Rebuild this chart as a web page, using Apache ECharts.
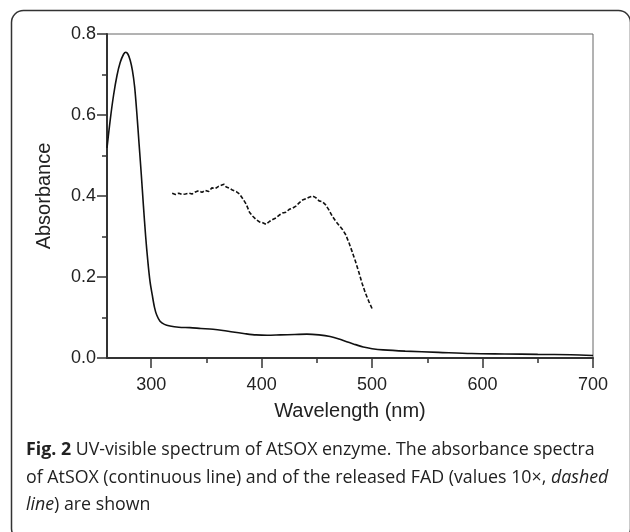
<!DOCTYPE html>
<html>
<head>
<meta charset="utf-8">
<script src="https://cdn.jsdelivr.net/npm/echarts@6/dist/echarts.min.js"></script>
<style>
html,body{margin:0;padding:0;background:#fff;}
#c{width:630px;height:532px;}
</style>
</head>
<body>
<div id="c"></div>
<script>
// ---- data ----
var solidWavelength = [260,263,266,269,272,275,277,279,281,283,285,287,289,291,293,295,297,299,301,303,305,308,312,317,325,335,345,356,365,374,385,395,405,417,430,441,452,462,470,477,485,492,500,510,530,560,590,620,650,680,700];
var solidAbsorbance = [0.519,0.590,0.650,0.697,0.730,0.750,0.755,0.750,0.735,0.710,0.670,0.605,0.530,0.455,0.375,0.300,0.238,0.188,0.155,0.125,0.106,0.091,0.083,0.079,0.076,0.075,0.073,0.071,0.068,0.064,0.060,0.057,0.056,0.057,0.058,0.059,0.057,0.053,0.047,0.040,0.033,0.027,0.023,0.020,0.017,0.014,0.011,0.010,0.009,0.008,0.006];
var fadWavelength = [319,322,325,328,331,334,337,340,343,346,349,352,355,358,361,364,366,368,371,374,377,380,383,386,389,392,395,398,401,404,407,410,413,416,419,422,425,428,431,434,437,440,443,446,449,452,455,458,461,464,467,470,473,476,479,482,485,488,491,494,497,500];
var fadAbsorbance10x = [0.407,0.404,0.407,0.404,0.405,0.407,0.405,0.410,0.413,0.409,0.414,0.411,0.420,0.418,0.424,0.427,0.429,0.422,0.419,0.414,0.411,0.405,0.393,0.380,0.360,0.350,0.342,0.336,0.334,0.330,0.337,0.342,0.346,0.353,0.358,0.360,0.367,0.370,0.375,0.383,0.390,0.393,0.397,0.400,0.396,0.388,0.386,0.378,0.365,0.350,0.338,0.328,0.318,0.305,0.285,0.262,0.238,0.212,0.184,0.160,0.140,0.122];
var xMajorTicks = [300,400,500,600,700];
var xMinorTicks = [350,450,550,650];
var yTickLabels = ['0.0','0.2','0.4','0.6','0.8'];
var captionLines = [
  ['{b|Fig. 2} UV-visible spectrum of AtSOX enzyme. The absorbance spectra'],
  ['of AtSOX (continuous line) and of the released FAD (values 10×, {i|dashed}'],
  ['{i|line}) are shown']
];

function zip(a,b){var r=[];for(var i=0;i<a.length;i++)r.push([a[i],b[i]]);return r;}

var chart = echarts.init(document.getElementById('c'), null, {renderer:'canvas'});
var axisFont = '"Liberation Sans", Arial, sans-serif';
var capFont = '"Open Sans", "Noto Sans", sans-serif';

var graphics = [{
  type:'rect', left:9, top:8, z:0,
  shape:{width:619, height:530, r:12},
  style:{fill:'none', stroke:'#333', lineWidth:1.5}
}];
captionLines.forEach(function(l, i){
  graphics.push({
    type:'text', left:26, top:441 + i*27.5,
    style:{
      text:l[0], fill:'#222', font:'17.8px ' + capFont,
      rich:{
        b:{fontWeight:'bold', fontSize:17.8, fontFamily:capFont, fill:'#222'},
        i:{fontStyle:'italic', fontSize:17.8, fontFamily:capFont, fill:'#222'}
      }
    }
  });
});

chart.setOption({
  animation:false,
  backgroundColor:'#fff',
  graphic: graphics,
  grid:{left:107, top:34, width:486, height:324, show:true, borderColor:'#666', borderWidth:1, containLabel:false, outerBoundsMode:'none'},
  xAxis:[{
    type:'value', min:260, max:700, position:'bottom',
    name:'Wavelength (nm)', nameLocation:'middle', nameGap:43,
    nameTextStyle:{fontFamily:axisFont, fontSize:20, color:'#222'},
    axisLine:{show:true, onZero:false, lineStyle:{color:'#333', width:2}},
    axisTick:{show:true, length:10, customValues:xMajorTicks, lineStyle:{color:'#333', width:1.5}},
    axisLabel:{show:true, customValues:xMajorTicks, margin:18, fontFamily:axisFont, fontSize:18, color:'#222'},
    splitLine:{show:false}
  },{
    type:'value', min:260, max:700, position:'bottom', gridIndex:0,
    axisLine:{show:false},
    axisTick:{show:true, length:5, customValues:xMinorTicks, lineStyle:{color:'#333', width:1.5}},
    axisLabel:{show:false},
    splitLine:{show:false}
  }],
  yAxis:{
    type:'value', min:0, max:0.8, interval:0.2,
    name:'Absorbance', nameLocation:'middle', nameGap:53, nameRotate:90,
    nameTextStyle:{fontFamily:axisFont, fontSize:20, color:'#222'},
    axisLine:{show:true, lineStyle:{color:'#333', width:2}},
    axisTick:{show:true, length:10, lineStyle:{color:'#333', width:1.5}},
    minorTick:{show:true, splitNumber:2, length:5, lineStyle:{color:'#333', width:1.5}},
    axisLabel:{margin:11, fontFamily:axisFont, fontSize:18, color:'#222',
      formatter:function(v){return yTickLabels[Math.round(v/0.2)];}},
    splitLine:{show:false}
  },
  series:[{
    type:'line', name:'AtSOX', data:zip(solidWavelength, solidAbsorbance),
    showSymbol:false, smooth:0.3, xAxisIndex:0,
    lineStyle:{color:'#111', width:1.6}
  },{
    type:'line', name:'FAD x10', data:zip(fadWavelength, fadAbsorbance10x),
    showSymbol:false, smooth:false, xAxisIndex:0,
    lineStyle:{color:'#111', width:1.6, type:[4,2]}
  }]
});
</script>
</body>
</html>
